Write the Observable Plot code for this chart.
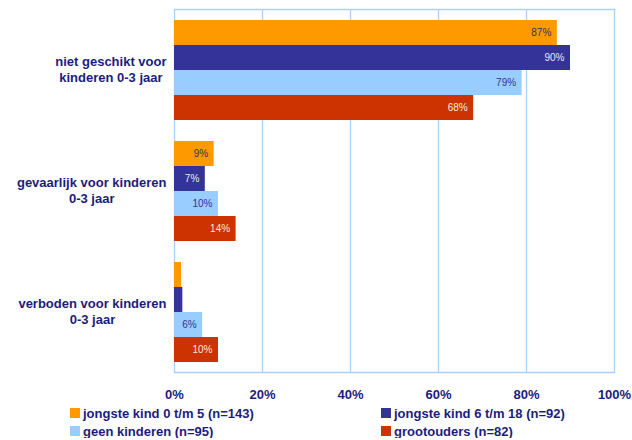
<!DOCTYPE html>
<html>
<head>
<meta charset="utf-8">
<script src="https://cdn.jsdelivr.net/npm/d3@7"></script>
<script src="https://cdn.jsdelivr.net/npm/@observablehq/plot@0.6"></script>
<style>
  html, body { margin: 0; padding: 0; background: #fff; }
  #chart { width: 632px; font-family: "Liberation Sans", Arial, sans-serif; }
  .legend { position: relative; height: 36px; font-weight: bold; font-size: 13px; color: #1c1c7c; }
  .item { position: absolute; display: flex; align-items: center; height: 18px; white-space: nowrap; }
  .sw { width: 10px; height: 10px; margin-right: 3px; }
</style>
</head>
<body>
<div id="chart"></div>
<script>
const categories = ["niet geschikt voor\nkinderen 0-3 jaar", "gevaarlijk voor kinderen\n0-3 jaar", "verboden voor kinderen\n0-3 jaar"];
const series = ["jongste kind 0 t/m 5 (n=143)", "jongste kind 6 t/m 18 (n=92)", "geen kinderen (n=95)", "grootouders (n=82)"];
const colors = ["#FF9900", "#333399", "#99CCFF", "#CC3300"];
const labelColors = ["#33335a", "#e8e8ff", "#333399", "#ffe8dc"];
// values[series][category]
const values = [
  [87, 9, 1.6],
  [90, 7, 1.9],
  [79, 10, 6.4],
  [68, 14, 10]
];
// whether a value label is printed
const showLabel = [
  [true, true, false],
  [true, true, false],
  [true, true, true],
  [true, true, true]
];
const xTicks = [0, 20, 40, 60, 80, 100];

const data = [];
series.forEach((s, i) => categories.forEach((c, j) => data.push({series: s, category: c, value: values[i][j], label: showLabel[i][j], si: i})));

const font = '"Liberation Sans", Arial, sans-serif';
const navy = "#1c1c7c";
const gridColor = "#a9d1fb";

const ctx = document.createElement("canvas").getContext("2d");
ctx.font = "bold 13px " + font;
const blockWidth = c => Math.max(...c.split("\n").map(l => ctx.measureText(l).width));

const marks = [
  Plot.ruleX(xTicks, {stroke: gridColor, strokeWidth: 1.3}),
  Plot.barX(data, {x: "value", y: "series", fy: "category", fill: "series"}),
  ...series.map((s, i) => Plot.text(data.filter(d => d.si === i && d.label), {
    x: "value", y: "series", fy: "category", text: d => Math.round(d.value) + "%",
    textAnchor: "end", dx: -6, fill: labelColors[i], fontSize: 10, fontWeight: "normal"
  })),
  ...categories.map(c => Plot.text([c], {
    fy: d => d, text: d => d, frameAnchor: "left", textAnchor: "middle",
    dx: -(8 + blockWidth(c) / 2), dy: -1, lineHeight: 1.25, fontSize: 13, fontWeight: "bold", fill: navy
  })),
  Plot.frame({anchor: "top", facetAnchor: "top", stroke: gridColor, strokeWidth: 1.3}),
  Plot.frame({anchor: "bottom", facetAnchor: "bottom", stroke: gridColor, strokeWidth: 1.3})
];

const plot = Plot.plot({
  width: 632,
  height: 402,
  marginTop: 8,
  marginBottom: 30,
  marginLeft: 174,
  marginRight: 18,
  style: {fontFamily: font, color: navy, background: "#fff", fontWeight: "bold", fontSize: "13px"},
  x: {domain: [0, 100], ticks: xTicks, tickFormat: d => d + "%", tickSize: 0, tickPadding: 17, label: null},
  y: {domain: series, axis: null, paddingInner: 0, paddingOuter: 0.33},
  fy: {domain: categories, axis: null, padding: 0},
  color: {domain: series, range: colors, legend: false},
  marks
});
document.getElementById("chart").appendChild(plot);

const legend = document.createElement("div");
legend.className = "legend";
const pos = [[70, 2], [381, 2], [70, 20], [381, 20]];
series.forEach((s, i) => {
  const it = document.createElement("div");
  it.className = "item";
  it.style.left = pos[i][0] + "px";
  it.style.top = pos[i][1] + "px";
  const sw = document.createElement("span");
  sw.className = "sw";
  sw.style.background = colors[i];
  const t = document.createElement("span");
  t.textContent = s;
  it.appendChild(sw); it.appendChild(t);
  legend.appendChild(it);
});
document.getElementById("chart").appendChild(legend);
</script>
</body>
</html>
